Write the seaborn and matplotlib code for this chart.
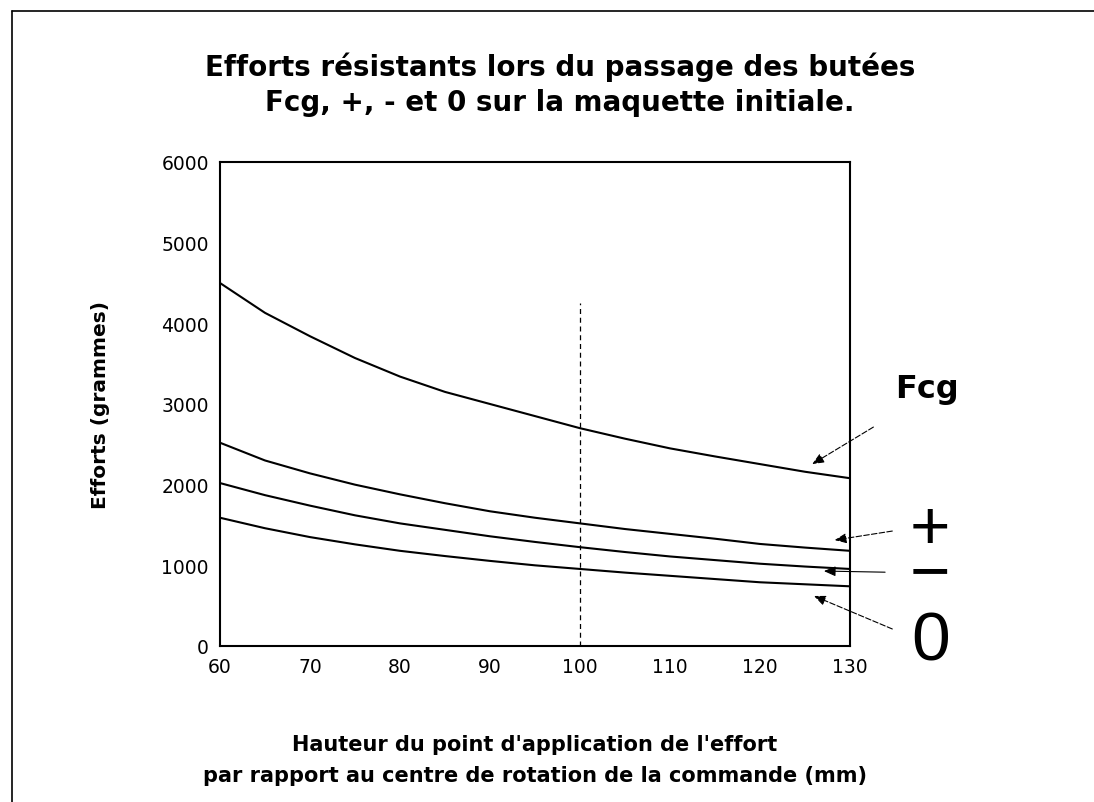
import matplotlib
matplotlib.use("Agg")
import matplotlib.pyplot as plt
from matplotlib.lines import Line2D
import seaborn as sns
import pandas as pd

# ---- data ----
hauteur = [60, 65, 70, 75, 80, 85, 90, 95, 100, 105, 110, 115, 120, 125, 130]
fcg   = [4500, 4130, 3840, 3570, 3340, 3150, 3000, 2850, 2700, 2570, 2450, 2350, 2255, 2160, 2080]
plus  = [2520, 2300, 2140, 2000, 1880, 1770, 1670, 1590, 1520, 1450, 1390, 1330, 1265, 1220, 1180]
moins = [2020, 1870, 1740, 1620, 1520, 1440, 1360, 1290, 1225, 1165, 1110, 1065, 1020, 985, 955]
zero  = [1590, 1460, 1350, 1260, 1180, 1115, 1055, 1000, 955, 910, 870, 830, 790, 765, 740]
series_names = ["Fcg", "+", "-", "0"]
y_ticks = [0, 1000, 2000, 3000, 4000, 5000, 6000]
x_ticks = [60, 70, 80, 90, 100, 110, 120, 130]
ref_x = 100
ref_top = 4250

title_text = "Efforts résistants lors du passage des butées\nFcg, +, - et 0 sur la maquette initiale."
xlabel_text = "Hauteur du point d'application de l'effort\npar rapport au centre de rotation de la commande (mm)"
ylabel_text = "Efforts (grammes)"

rows = []
for name, vals in zip(series_names, [fcg, plus, moins, zero]):
    for h, v in zip(hauteur, vals):
        rows.append({"hauteur": h, "effort": v, "serie": name})
df = pd.DataFrame(rows)

sns.set_style("white")
plt.rcParams["font.family"] = ["DejaVu Sans"]
plt.rcParams["text.color"] = "black"
plt.rcParams["axes.labelcolor"] = "black"
plt.rcParams["xtick.color"] = "black"
plt.rcParams["ytick.color"] = "black"

fig = plt.figure(figsize=(10.94, 8.03), dpi=100)
W, H = 1094, 803
ax = fig.add_axes([220 / W, 1 - 647 / H, 630 / W, 484 / H])

sns.lineplot(data=df, x="hauteur", y="effort", hue="serie",
             palette={n: "black" for n in series_names},
             linewidth=1.5, legend=False, ax=ax, sort=True)

ax.vlines(ref_x, 0, ref_top, colors="black", linestyles=(0, (4, 3)), linewidth=0.9)

ax.set_xlim(60, 130)
ax.set_ylim(0, 6000)
ax.set_xticks(x_ticks)
ax.set_yticks(y_ticks)
ax.tick_params(axis="both", direction="inout", length=8, width=1.0,
               labelsize=13.5, colors="black", pad=4)
for s in ax.spines.values():
    s.set_visible(True)
    s.set_color("black")
    s.set_linewidth(1.5)

ax.set_xlabel(xlabel_text, fontsize=15, fontweight="bold", labelpad=42, linespacing=1.65)
ax.set_ylabel(ylabel_text, fontsize=14.5, fontweight="bold", labelpad=37)

fig.text(560 / W, 1 - 85 / H, title_text, ha="center", va="center",
         fontsize=20, fontweight="bold", linespacing=1.3)

# Annotations on the right
arrow_kw = dict(arrowstyle="-|>,head_length=0.7,head_width=0.3", color="black",
                lw=0.8, linestyle=(0, (5, 2)), shrinkA=0, shrinkB=0)
ax.annotate("", xy=(125.8, 2255), xytext=(132.6, 2714), arrowprops=arrow_kw, annotation_clip=False)
ax.annotate("", xy=(128.3, 1313), xytext=(134.7, 1425), arrowprops=arrow_kw, annotation_clip=False)
ax.annotate("", xy=(127.1, 929), xytext=(133.9, 915),
            arrowprops=dict(arrow_kw, linestyle="-"), annotation_clip=False)
ax.annotate("", xy=(126.0, 620), xytext=(134.7, 211), arrowprops=arrow_kw, annotation_clip=False)

ax.text(138.6, 3190, "Fcg", ha="center", va="center", fontsize=23, fontweight="bold", clip_on=False)
ax.text(138.9, 1165, "+\n\u2212", ha="center", va="center", fontsize=50, linespacing=0.62,
        family=["Liberation Sans", "DejaVu Sans"], clip_on=False)
ax.text(139.0, 60, "0", ha="center", va="center", fontsize=50,
        family=["Liberation Sans", "DejaVu Sans"], clip_on=False)

# Page frame (left and top edges, as in the scan)
fig.add_artist(Line2D([12 / W, 12 / W], [0, 1 - 12 / H], color="black", lw=1.2))
fig.add_artist(Line2D([12 / W, 1], [1 - 12 / H, 1 - 12 / H], color="black", lw=1.2))

fig.savefig("out.png", dpi=100, facecolor="white")
